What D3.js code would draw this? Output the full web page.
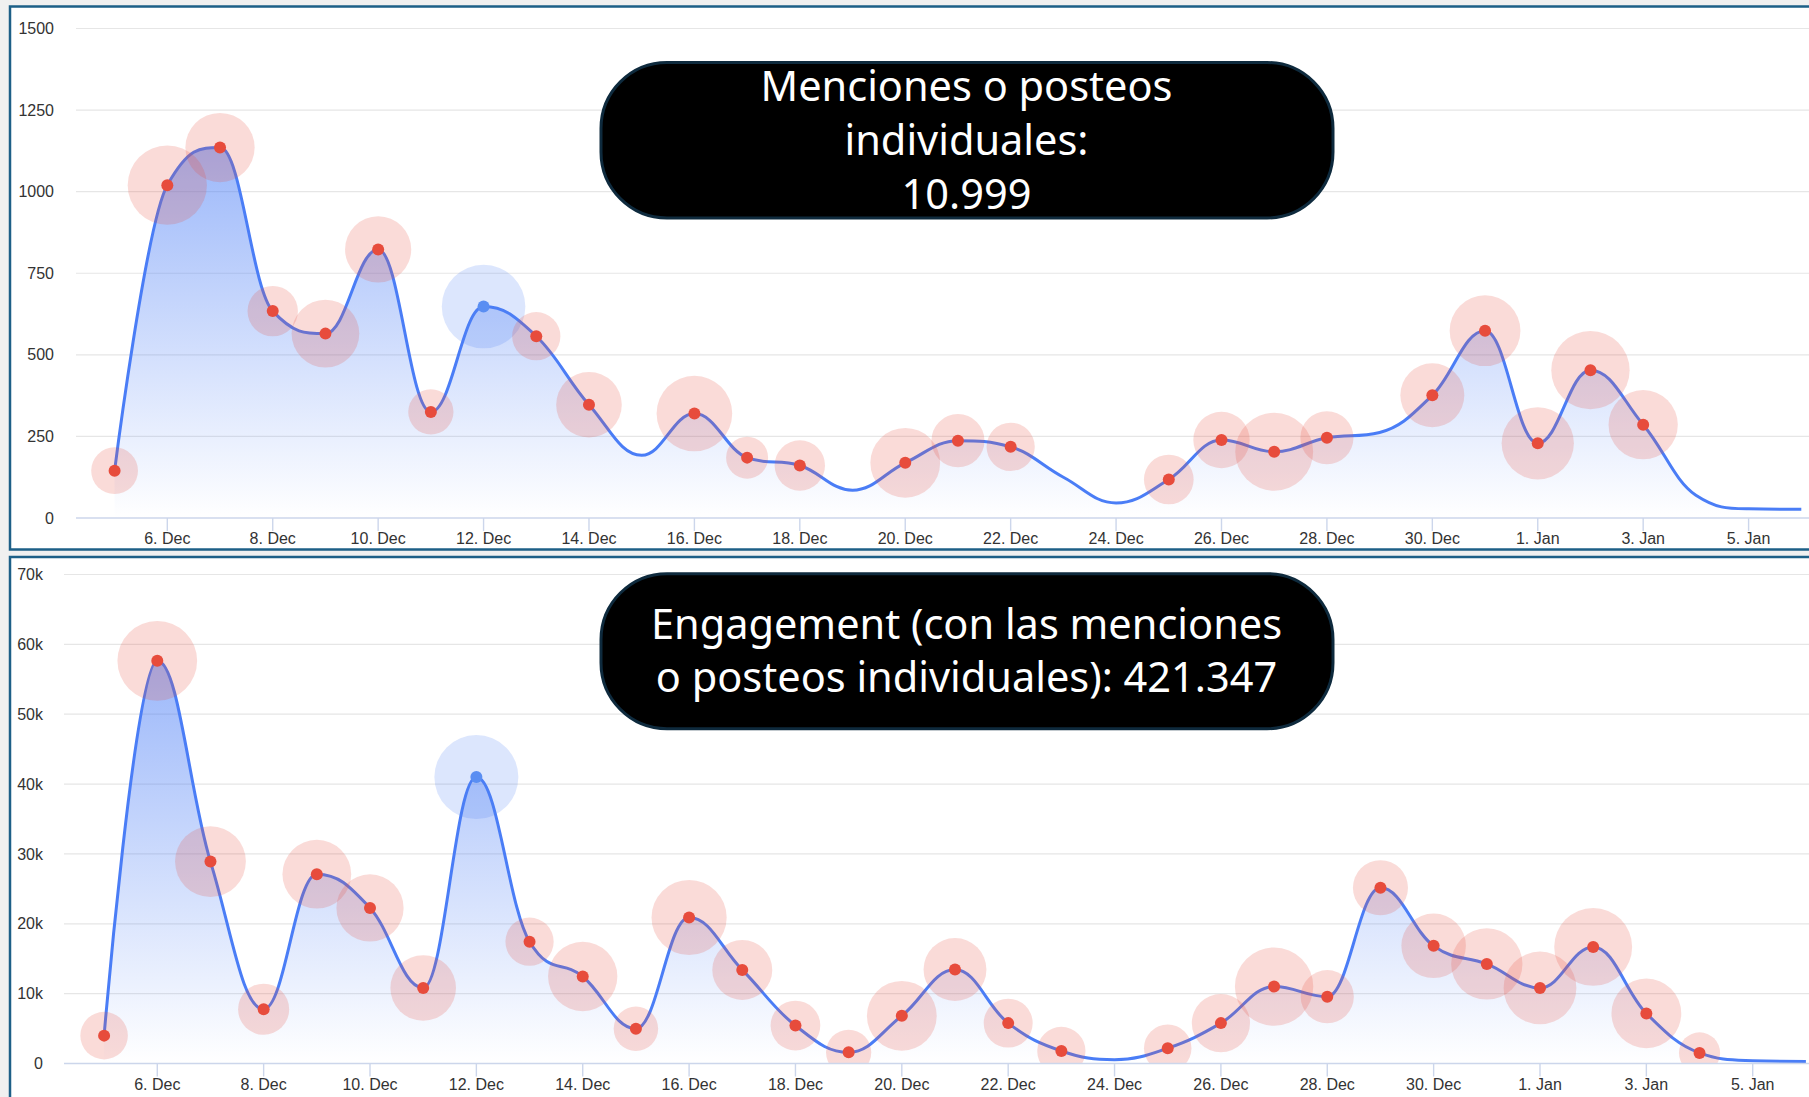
<!DOCTYPE html>
<html>
<head>
<meta charset="utf-8">
<script src="https://cdn.jsdelivr.net/npm/d3@7"></script>
<style>
  body { margin: 0; background: #f0f0f0; }
  svg { display: block; }
</style>
</head>
<body>
<div id="grafico"></div>
<script>
// datos (un valor por dia)
const dias = ["2023-12-05","2023-12-06","2023-12-07","2023-12-08","2023-12-09","2023-12-10","2023-12-11",
  "2023-12-12","2023-12-13","2023-12-14","2023-12-15","2023-12-16","2023-12-17","2023-12-18","2023-12-19",
  "2023-12-20","2023-12-21","2023-12-22","2023-12-23","2023-12-24","2023-12-25","2023-12-26","2023-12-27",
  "2023-12-28","2023-12-29","2023-12-30","2023-12-31","2024-01-01","2024-01-02","2024-01-03","2024-01-04",
  "2024-01-05","2024-01-06"];

const menciones = [145, 1020, 1135, 634, 565, 823, 325, 648, 557, 347, 192, 320, 185, 161, 85, 169, 237,
  218, 125, 46, 118, 239, 203, 246, 262, 376, 574, 229, 453, 286, 70, 28, 27];

const engagement = [3990, 57640, 28900, 7770, 27100, 22270, 10810, 41000, 17440, 12455, 4980, 20900, 13400,
  5430, 1594, 6825, 13450, 5780, 1793, 548, 2192, 5780, 11010, 9565, 25160, 16840, 14250, 10810, 16690,
  7174, 1517, 400, 300];

// tamaño relativo de las burbujas (null = sin burbuja ese dia)
const tamMenciones = [31, 89, 68, 36, 65, 62, 29, 99, 33, 61, null, 81, 25, 36, null, 69, 40, 33, null, null,
  35, 45, 86, 40, null, 58, 71, 74, 87, 68, null, null, null];

const tamEngagement = [32, 90, 71, 37, 67, 64, 61, 100, 33, 68, 28, 80, 51, 35, 29, 69, 56, 34, 33, null,
  32, 48, 87, 40, 43, 59, 72, 75, 86, 69, 24, null, null];

const diaDestacado = "2023-12-12";

const ticksX = ["2023-12-06","2023-12-08","2023-12-10","2023-12-12","2023-12-14","2023-12-16","2023-12-18",
  "2023-12-20","2023-12-22","2023-12-24","2023-12-26","2023-12-28","2023-12-30","2024-01-01","2024-01-03",
  "2024-01-05"];
const ticksMenciones = [0, 250, 500, 750, 1000, 1250, 1500];
const ticksEngagement = [0, 10000, 20000, 30000, 40000, 50000, 60000, 70000];

const textoMenciones = ["Menciones o posteos", "individuales:", "10.999"];
const textoEngagement = ["Engagement (con las menciones", "o posteos individuales): 421.347"];

const W = 1809, H = 1097;
const AZUL = "#4a7df6", ROJO = "#e74c3c";
const parse = d3.timeParse("%Y-%m-%d");
const fmtX = d3.timeFormat("%-d. %b");

const svg = d3.select("#grafico").append("svg").attr("width", W).attr("height", H);
svg.append("rect").attr("width", W).attr("height", H).attr("fill", "#f0f0f0");
const defs = svg.append("defs");

// spline "a la Highcharts": puntos de control alineados y sin falsos extremos
function spline(pts)
{
  const p = d3.path();
  p.moveTo(pts[0][0], pts[0][1]);
  let prevDer = null;
  for (let i = 1; i < pts.length; i++)
  {
    const [x, y] = pts[i], ant = pts[i - 1], sig = pts[i + 1];
    let izq = [x, y], der = null;
    if (sig)
    {
      let lx = (1.5 * x + ant[0]) / 2.5, ly = (1.5 * y + ant[1]) / 2.5;
      let rx = (1.5 * x + sig[0]) / 2.5, ry = (1.5 * y + sig[1]) / 2.5;
      let corr = 0;
      if (rx !== lx) corr = (ry - ly) * (rx - x) / (rx - lx) + y - ry;
      ly += corr; ry += corr;
      if (ly > ant[1] && ly > y) { ly = Math.max(ant[1], y); ry = 2 * y - ly; }
      else if (ly < ant[1] && ly < y) { ly = Math.min(ant[1], y); ry = 2 * y - ly; }
      if (ry > sig[1] && ry > y) { ry = Math.max(sig[1], y); ly = 2 * y - ry; }
      else if (ry < sig[1] && ry < y) { ry = Math.min(sig[1], y); ly = 2 * y - ry; }
      izq = [lx, ly]; der = [rx, ry];
    }
    const c1 = prevDer || ant;
    p.bezierCurveTo(c1[0], c1[1], izq[0], izq[1], x, y);
    prevDer = der;
  }
  return p.toString();
}

function panel(cfg)
{
  const g = svg.append("g");
  // marco del panel
  g.append("rect")
    .attr("x", 10).attr("y", cfg.top).attr("width", W + 20).attr("height", cfg.alto)
    .attr("fill", "white").attr("stroke", "#1d5f87").attr("stroke-width", 2.5);

  const x = d3.scaleTime().domain([parse(dias[0]), parse(dias[dias.length - 1])]).range(cfg.rangoX);
  const y = d3.scaleLinear().domain([0, cfg.ticksY[cfg.ticksY.length - 1]]).range([cfg.y0, cfg.y1]);

  const id = "clip" + cfg.nombre;
  defs.append("clipPath").attr("id", id).append("rect")
    .attr("x", cfg.left).attr("y", cfg.y1 - 5).attr("width", W - cfg.left).attr("height", cfg.y0 - cfg.y1 + 5);

  // grilla
  g.selectAll(".grid").data(cfg.ticksY.slice(1)).join("line")
    .attr("x1", cfg.left).attr("x2", W).attr("y1", d => y(d)).attr("y2", d => y(d))
    .attr("stroke", "#e6e6e6").attr("stroke-width", 1.2);

  g.selectAll(".ylab").data(cfg.ticksY).join("text")
    .attr("x", cfg.labX).attr("y", d => y(d)).attr("dy", "0.35em")
    .attr("text-anchor", "end").attr("fill", "#333")
    .style("font", "16px 'Liberation Sans', Arial, sans-serif")
    .text(cfg.fmtY);

  const pts = cfg.valores.map((v, i) => [x(parse(dias[i])), y(v)]);
  const linea = spline(pts);

  const gradId = "grad" + cfg.nombre;
  const grad = defs.append("linearGradient").attr("id", gradId)
    .attr("x1", 0).attr("y1", 0).attr("x2", 0).attr("y2", 1);
  grad.append("stop").attr("offset", 0).attr("stop-color", AZUL).attr("stop-opacity", 0.55);
  grad.append("stop").attr("offset", 1).attr("stop-color", AZUL).attr("stop-opacity", 0);

  const cuerpo = g.append("g").attr("clip-path", "url(#" + id + ")");
  cuerpo.append("path")
    .attr("d", linea + "L" + pts[pts.length - 1][0] + "," + cfg.y0 + "L" + pts[0][0] + "," + cfg.y0 + "Z")
    .attr("fill", "url(#" + gradId + ")");
  cuerpo.append("path").attr("d", linea)
    .attr("fill", "none").attr("stroke", AZUL).attr("stroke-width", 3);

  // eje x
  g.append("line").attr("x1", cfg.left).attr("x2", W).attr("y1", cfg.y0).attr("y2", cfg.y0)
    .attr("stroke", "#ccd6eb").attr("stroke-width", 1.6);
  const tx = g.selectAll(".tick").data(ticksX).join("g")
    .attr("transform", d => "translate(" + x(parse(d)) + "," + cfg.y0 + ")");
  tx.append("line").attr("y2", 13).attr("stroke", "#ccd6eb").attr("stroke-width", 1.4);
  tx.append("text").attr("y", 26).attr("text-anchor", "middle").attr("fill", "#333")
    .style("font", "16px 'Liberation Sans', Arial, sans-serif")
    .text(d => fmtX(parse(d)));

  // burbujas
  const r = d3.scaleSqrt().domain([0, 100]).range([0, 42]);
  const burb = dias.map((d, i) => ({ d: d, v: cfg.valores[i], z: cfg.tam[i] })).filter(b => b.z != null);
  cuerpo.selectAll(".burbuja").data(burb).join("circle")
    .attr("cx", b => x(parse(b.d))).attr("cy", b => y(b.v)).attr("r", b => r(b.z))
    .attr("fill", b => b.d === diaDestacado ? "rgba(80,130,245,0.2)" : "rgba(231,76,60,0.2)");
  g.selectAll(".punto").data(burb).join("circle")
    .attr("cx", b => x(parse(b.d))).attr("cy", b => y(b.v)).attr("r", 6)
    .attr("fill", b => b.d === diaDestacado ? "#5a8ef2" : ROJO);

  // cartel negro
  g.append("rect").attr("x", 601).attr("y", cfg.caja[0]).attr("width", 732).attr("height", cfg.caja[1])
    .attr("rx", 66).attr("fill", "black").attr("stroke", "#0e2a3d").attr("stroke-width", 3);
  g.selectAll(".cartel").data(cfg.texto).join("text")
    .attr("x", 966.5).attr("y", (d, i) => cfg.base + i * cfg.interl)
    .attr("text-anchor", "middle").attr("fill", "white")
    .style("font", "41.5px 'Noto Sans', sans-serif")
    .text(d => d);
}

panel({
  nombre: "menciones", top: 6.5, alto: 543, left: 76, labX: 54,
  y0: 518, y1: 28.5, rangoX: [114.6, 1801.3],
  ticksY: ticksMenciones, fmtY: d => d,
  valores: menciones, tam: tamMenciones,
  caja: [62.5, 155.5], texto: textoMenciones, base: 101, interl: 54
});

panel({
  nombre: "engagement", top: 557, alto: 600, left: 64, labX: 43,
  y0: 1063.5, y1: 574.5, rangoX: [104.1, 1805.9],
  ticksY: ticksEngagement, fmtY: d => d === 0 ? "0" : d / 1000 + "k",
  valores: engagement, tam: tamEngagement,
  caja: [573.7, 155], texto: textoEngagement, base: 639, interl: 53.4
});
</script>
</body>
</html>
